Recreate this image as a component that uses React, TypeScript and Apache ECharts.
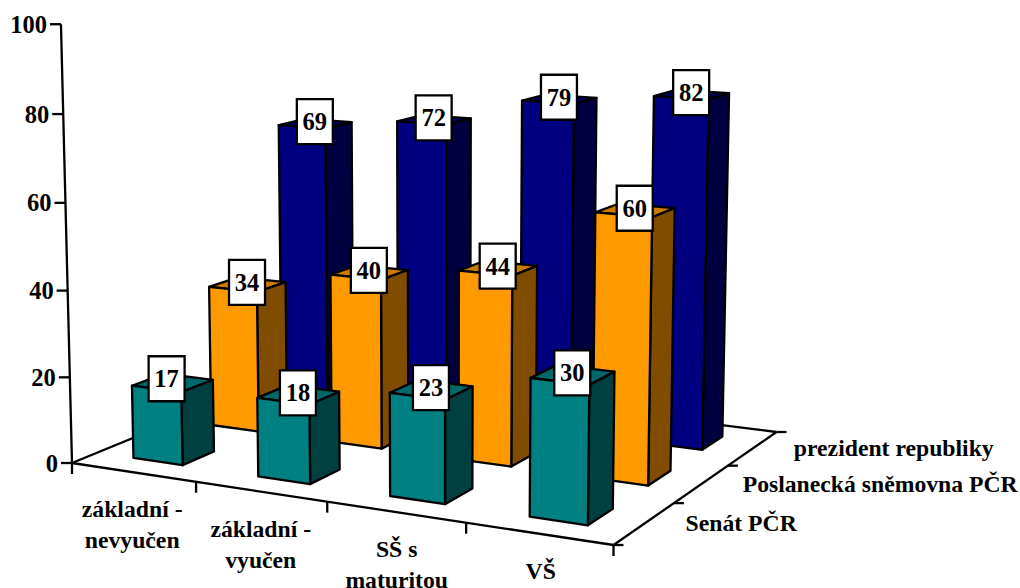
import React, { useEffect, useRef } from "react";
import * as echarts from "echarts";

const categories = ["základní -\nnevyučen", "základní -\nvyučen", "SŠ s\nmaturitou", "VŠ"];
const rows = ["Senát PČR", "Poslanecká sněmovna PČR", "prezident republiky"];
const senat = [17, 18, 23, 30];
const snemovna = [34, 40, 44, 60];
const prezident = [69, 72, 79, 82];
const valueTicks = [0, 20, 40, 60, 80, 100];

const rowFill = [
  { front: "#008080", side: "#004040", top: "#006868" },
  { front: "#FF9900", side: "#804D00", top: "#CC7A00" },
  { front: "#000080", side: "#000040", top: "#000060" },
];

const FONT = '"Liberation Serif"';
const A = [72, 463], B = [613.5, 545], C = [776.5, 432], D = [294, 371.8];
const nCat = 4, nRow = 3, K = -0.000293, VPX = 438, VPY = 15000;
const BAR_W = 0.4, BAR_D = 0.4, LW = 2.3;

const dx1 = B[0] - C[0], dx2 = D[0] - C[0], sx = A[0] - B[0] + C[0] - D[0];
const dy1 = B[1] - C[1], dy2 = D[1] - C[1], sy = A[1] - B[1] + C[1] - D[1];
const den = dx1 * dy2 - dx2 * dy1;
const g = (sx * dy2 - dx2 * sy) / den, h = (dx1 * sy - sx * dy1) / den;
const a = B[0] - A[0] + g * B[0], b = D[0] - A[0] + h * D[0];
const d = B[1] - A[1] + g * B[1], e = D[1] - A[1] + h * D[1];

function P(u: number, v: number, val: number): number[] {
  const s = u / nCat, t = v / nRow;
  const w = g * s + h * t + 1 + K * val;
  return [(a * s + b * t + A[0] + VPX * K * val) / w, (d * s + e * t + A[1] + VPY * K * val) / w];
}

const line = (p: number[], q: number[]) => ({
  type: "line",
  shape: { x1: p[0], y1: p[1], x2: q[0], y2: q[1] },
  style: { stroke: "#000", lineWidth: LW },
});
const text = (x: number, y: number, s: string, align: string, size = 23.7) => ({
  type: "text",
  x,
  y,
  style: { text: s, fill: "#000", fontFamily: FONT, fontWeight: "bold", fontSize: size, textAlign: align, verticalAlign: "middle", lineHeight: 18 },
});

function renderAxes() {
  const kids: any[] = [];
  kids.push(line(P(0, 0, 0), P(0, 0, 100)), line(P(0, 0, 0), P(nCat, 0, 0)), line(P(nCat, 0, 0), P(nCat, nRow, 0)), line(P(nCat, nRow, 0), P(0, nRow, 0)), line(P(0, nRow, 0), P(0, 0, 0)));
  valueTicks.forEach((t) => {
    const p = P(0, 0, t);
    kids.push(line(p, [p[0] - 11, p[1]]));
    kids.push(text(p[0] - 14, p[1], String(t), "right", 24.5));
  });
  for (let i = 0; i <= nCat; i++) {
    const p = P(i, 0, 0);
    kids.push(line(p, [p[0], p[1] + 11]));
  }
  categories.forEach((c, i) => {
    const p = P(i + 0.5, 0, 0);
    c.split("\n").forEach((part, n) => {
      kids.push(text(p[0] - 1 + i, p[1] + 37 + n * 31, part, "center"));
    });
  });
  for (let j = 0; j <= nRow; j++) {
    const p = P(nCat, j, 0);
    kids.push(line(p, [p[0] + 10, p[1]]));
  }
  rows.forEach((r, j) => {
    const p = P(nCat, j + 0.5, 0);
    kids.push(text(p[0] + 41, p[1], r, "left"));
  });
  return { type: "group", children: kids };
}

function barRenderer(j: number) {
  return (_: any, api: any) => {
    const i = api.value(0), val = api.value(1);
    const u0 = i + 0.5 - BAR_W / 2, u1 = i + 0.5 + BAR_W / 2;
    const v0 = j + 0.5 - BAR_D / 2, v1 = j + 0.5 + BAR_D / 2;
    const f = rowFill[j];
    const st = (fill: string) => ({ fill, stroke: "#000", lineWidth: LW, lineJoin: "round" });
    return {
      type: "group",
      children: [
        { type: "polygon", shape: { points: [P(u0, v0, val), P(u1, v0, val), P(u1, v1, val), P(u0, v1, val)] }, style: st(f.top) },
        { type: "polygon", shape: { points: [P(u1, v0, 0), P(u1, v1, 0), P(u1, v1, val), P(u1, v0, val)] }, style: st(f.side) },
        { type: "polygon", shape: { points: [P(u0, v0, 0), P(u1, v0, 0), P(u1, v0, val), P(u0, v0, val)] }, style: st(f.front) },
      ],
    };
  };
}

function labelRenderer(j: number) {
  return (_: any, api: any) => {
    const i = api.value(0), val = api.value(1);
    const c = P(i + 0.5, j + 0.5, val);
    const first = i === 0 && j === 0;
    const cx = c[0] - (first ? 6 : 0.5), cy = c[1] - (first ? 4 : 2);
    return {
      type: "group",
      children: [
        { type: "rect", shape: { x: cx - 18, y: cy - 22.5, width: 36, height: 45 }, style: { fill: "#fff", stroke: "#000", lineWidth: LW } },
        { type: "text", x: cx, y: cy, style: { text: String(val), fill: "#000", fontFamily: FONT, fontWeight: "bold", fontSize: 24.5, textAlign: "center", verticalAlign: "middle" } },
      ],
    };
  };
}

export default function App() {
  const ref = useRef<HTMLDivElement>(null);
  useEffect(() => {
    const chart = echarts.init(ref.current!, undefined, { renderer: "svg" });
    const rowValues = [senat, snemovna, prezident];
    const pairs = (vals: number[]) => vals.map((v, i) => [i, v]);
    const series: any[] = [
      { type: "custom", name: "axes", z: 1, silent: true, data: [[0, 0]], renderItem: renderAxes, clip: false },
    ];
    [2, 1, 0].forEach((j) => {
      series.push({ type: "custom", name: rows[j], z: 5 - j, silent: true, clip: false, data: pairs(rowValues[j]), encode: { x: 0, y: 1 }, renderItem: barRenderer(j) });
    });
    [2, 1, 0].forEach((j) => {
      series.push({ type: "custom", name: rows[j] + " labels", z: 10, silent: true, clip: false, data: pairs(rowValues[j]), encode: { x: 0, y: 1 }, renderItem: labelRenderer(j) });
    });
    chart.setOption({
      animation: false,
      backgroundColor: "#fff",
      grid: { left: 60, right: 245, top: 24, bottom: 125 },
      xAxis: { type: "category", data: categories, show: false },
      yAxis: { type: "value", min: 0, max: 100, interval: 20, show: false },
      series,
    });
    return () => chart.dispose();
  }, []);
  return <div ref={ref} style={{ position: "fixed", left: 0, top: 0, width: 1020, height: 588 }} />;
}
